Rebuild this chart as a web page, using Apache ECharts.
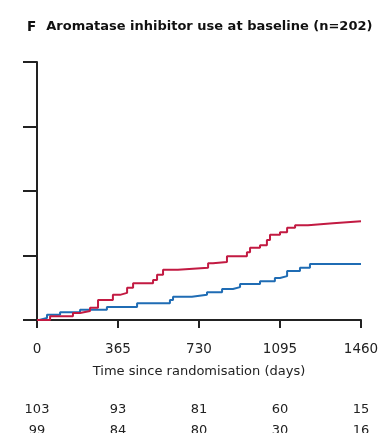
<!DOCTYPE html>
<html><head><meta charset="utf-8">
<script src="https://cdn.jsdelivr.net/npm/echarts@6/dist/echarts.min.js"></script>
<style>html,body{margin:0;padding:0;background:#fff}#c{width:380px;height:433px}</style>
</head><body><div id="c"></div>
<script>
// Cumulative incidence (%) step data
const redDays   = [0, 59, 162, 194, 239, 275, 342, 374, 406, 433, 523, 541, 568, 635, 771, 793, 856, 946, 960, 1005, 1036, 1050, 1095, 1127, 1163, 1221, 1334, 1460];
const redValues = [0, 0.6, 1.1, 1.4, 1.9, 3.1, 3.9, 4.2, 5.0, 5.7, 6.2, 7.0, 7.8, 8.1, 8.8, 9.0, 9.9, 10.5, 11.2, 11.6, 12.4, 13.2, 13.6, 14.3, 14.7, 15.0, 15.3, 15.3];
const blueDays   = [0, 10, 45, 104, 194, 315, 451, 599, 613, 698, 766, 834, 883, 915, 1005, 1072, 1095, 1127, 1185, 1230, 1460];
const blueValues = [0, 0.3, 0.8, 1.2, 1.6, 2.0, 2.6, 3.1, 3.6, 3.9, 4.3, 4.8, 5.1, 5.6, 6.0, 6.5, 6.8, 7.6, 8.1, 8.7, 8.7];
const xTicks = [0, 365, 730, 1095, 1460];
const riskRow1 = [103, 93, 81, 60, 15];
const riskRow2 = [99, 84, 80, 30, 16];
const titleText = 'Aromatase inhibitor use at baseline (n=202)';
const axisTitle = 'Time since randomisation (days)';

// Kaplan-Meier style staircase: horizontal to each event time, then vertical jump
const toSteps = (xs, ys) => {
  const out = [[xs[0], ys[0]]];
  for (let i = 1; i < xs.length; i++) {
    out.push([xs[i], ys[i - 1]]);
    if (ys[i] !== ys[i - 1]) out.push([xs[i], ys[i]]);
  }
  return out;
};
const font = 'DejaVu Sans';
const axisColor = '#222';

const chart = echarts.init(document.getElementById('c'), null, {renderer: 'canvas'});
const baseX = {
  type: 'value', min: 0, max: 1460, interval: 365, gridIndex: 0, position: 'bottom',
  splitLine: {show: false}
};
chart.setOption({
  animation: false,
  backgroundColor: '#fff',
  title: {
    left: 22, top: 13,
    text: '{f|F}  {t|' + titleText + '}',
    textStyle: {
      rich: {
        f: {fontFamily: font, fontWeight: 'bold', fontSize: 13.5, color: '#111'},
        t: {fontFamily: font, fontWeight: 'bold', fontSize: 13, color: '#111'}
      }
    }
  },
  grid: {left: 37, right: 19, top: 62, bottom: 113, containLabel: false, outerBoundsMode: 'none'},
  xAxis: [
    Object.assign({}, baseX, {
      axisLine: {show: true, lineStyle: {color: axisColor, width: 2}},
      axisTick: {show: true, length: 8, lineStyle: {color: axisColor, width: 2}},
      axisLabel: {show: true, margin: 22, color: '#222', fontFamily: font, fontSize: 13.5,
        formatter: v => String(v)},
      name: axisTitle, nameLocation: 'middle', nameGap: 45,
      nameTextStyle: {color: '#222', fontFamily: font, fontSize: 13}
    }),
    Object.assign({}, baseX, {
      offset: 83,
      axisLine: {show: false}, axisTick: {show: false},
      axisLabel: {show: true, margin: 0, color: '#222', fontFamily: font, fontSize: 13,
        formatter: v => String(riskRow1[xTicks.indexOf(v)])}
    }),
    Object.assign({}, baseX, {
      offset: 104,
      axisLine: {show: false}, axisTick: {show: false},
      axisLabel: {show: true, margin: 0, color: '#222', fontFamily: font, fontSize: 13,
        formatter: v => String(riskRow2[xTicks.indexOf(v)])}
    })
  ],
  yAxis: {
    type: 'value', min: 0, max: 40, interval: 10,
    axisLine: {show: true, lineStyle: {color: axisColor, width: 2}},
    axisTick: {show: true, length: 14, lineStyle: {color: axisColor, width: 2}},
    axisLabel: {show: false},
    splitLine: {show: false}
  },
  series: [
    {type: 'line', data: toSteps(blueDays, blueValues), showSymbol: false, symbol: 'none',
     lineStyle: {color: '#1f6cb4', width: 2}, itemStyle: {color: '#1f6cb4'}, z: 2},
    {type: 'line', data: toSteps(redDays, redValues), showSymbol: false, symbol: 'none',
     lineStyle: {color: '#c21a42', width: 2}, itemStyle: {color: '#c21a42'}, z: 3}
  ]
});
</script></body></html>
